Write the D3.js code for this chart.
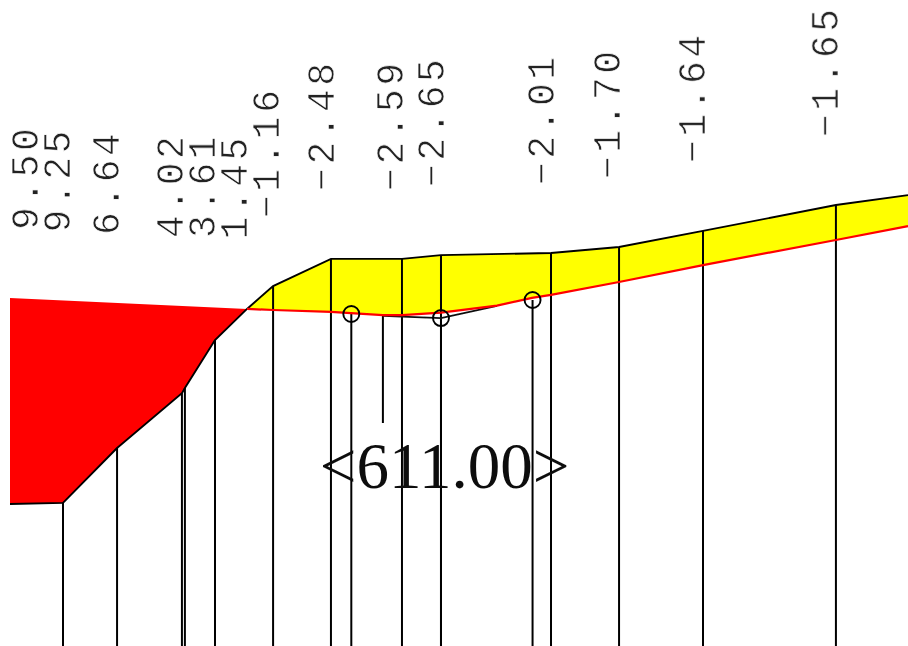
<!DOCTYPE html>
<html>
<head>
<meta charset="utf-8">
<script src="https://cdnjs.cloudflare.com/ajax/libs/d3/7.8.5/d3.min.js"></script>
<style>
  html, body { margin: 0; padding: 0; background: #fff; }
  svg { display: block; }
</style>
</head>
<body>
<div id="chart"></div>
<script>
// ground profile (station m, elevation m)
const groundStations = [0, 2.50, 5.05, 8.11, 8.25, 9.67, 11.18, 12.41, 15.14, 18.49, 20.33, 25.52, 28.73, 32.69, 38.96, 42.36];
const groundLevels = [601.85, 601.90, 604.49, 607.08, 607.32, 609.58, 611.05, 612.13, 613.41, 613.41, 613.59, 613.69, 613.97, 614.73, 615.95, 616.42];

// design line
const designStations = [0, 11.18, 12.41, 15.14, 17.59, 18.49, 20.33, 22.97, 24.62, 25.52, 28.73, 32.69, 38.96, 42.36];
const designLevels = [611.57, 611.05, 611.00, 610.91, 610.76, 610.76, 610.88, 611.21, 611.57, 611.71, 612.32, 613.12, 614.30, 614.96];

// old surface under the design line
const subStations = [17.59, 18.49, 20.33, 22.97];
const subLevels = [610.72, 610.69, 610.62, 611.19];

// survey marks
const markStations = [16.10, 20.33, 24.65];
const markLevels = [610.81, 610.62, 611.47];

// stakes with a depth label
const stakeStations = [0, 2.50, 5.05, 8.11, 8.25, 9.67, 12.41, 15.14, 18.49, 20.33, 25.52, 28.73, 32.69, 38.96];
const depthValues = [9.50, 9.25, 6.64, 4.02, 3.61, 1.45, -1.16, -2.48, -2.59, -2.65, -2.01, -1.70, -1.64, -1.65];
const labelStations = [0.71, 2.26, 4.53, 7.55, 9.10, 10.61, 12.12, 14.67, 17.97, 19.86, 25.05, 28.16, 32.17, 38.44];

const centerLevel = 611.00;
const centerStation = 20.50;

const width = 908;
const height = 646;

const x = d3.scaleLinear().domain([0, 42.36]).range([10, 908]);
const y = d3.scaleLinear().domain([611, 621]).range([310, 98]);

const groundAt = d3.scaleLinear().domain(groundStations).range(groundLevels);
const designAt = d3.scaleLinear().domain(designStations).range(designLevels);

const root = d3.select('#chart')
    .append('svg')
    .attr('width', width)
    .attr('height', height);

// the reference is a slightly soft enlargement
root.append('defs')
    .append('filter')
    .attr('id', 'soft')
    .append('feGaussianBlur')
    .attr('stdDeviation', 0.45);

const svg = root.append('g').attr('filter', 'url(#soft)');

const line = d3.line().x(d => x(d[0])).y(d => y(d[1]));

const ground = d3.zip(groundStations, groundLevels);
const design = d3.zip(designStations, designLevels);
const crossing = 11.18;

// cut and fill areas
svg.append('path')
    .attr('d', line(design.filter(d => d[0] <= crossing).concat(ground.filter(d => d[0] <= crossing).reverse())) + 'Z')
    .attr('fill', '#ff0000');
svg.append('path')
    .attr('d', line(design.filter(d => d[0] >= crossing).concat(ground.filter(d => d[0] >= crossing).reverse())) + 'Z')
    .attr('fill', '#ffff00');

// stakes run down to the bottom of the sheet
svg.selectAll('.stake')
    .data(stakeStations.slice(1))
    .enter()
    .append('line')
    .attr('class', 'stake')
    .attr('x1', d => x(d))
    .attr('x2', d => x(d))
    .attr('y1', d => y(groundAt(d)))
    .attr('y2', height)
    .attr('stroke', '#000')
    .attr('stroke-width', 2);

svg.selectAll('.markStake')
    .data(d3.zip(markStations, markLevels))
    .enter()
    .append('line')
    .attr('class', 'markStake')
    .attr('x1', d => x(d[0]))
    .attr('x2', d => x(d[0]))
    .attr('y1', d => y(d[1]))
    .attr('y2', height)
    .attr('stroke', '#000')
    .attr('stroke-width', 2);

// the short one above the centre label
svg.append('line')
    .attr('x1', x(subStations[0]))
    .attr('x2', x(subStations[0]))
    .attr('y1', y(subLevels[0]))
    .attr('y2', 423)
    .attr('stroke', '#000')
    .attr('stroke-width', 2);

svg.append('path')
    .attr('d', line(d3.zip(subStations, subLevels)))
    .attr('fill', 'none')
    .attr('stroke', '#111')
    .attr('stroke-width', 1.8);

svg.append('path')
    .attr('d', line(ground))
    .attr('fill', 'none')
    .attr('stroke', '#000')
    .attr('stroke-width', 1.9);

svg.append('path')
    .attr('d', line(design.filter(d => d[0] >= crossing)))
    .attr('fill', 'none')
    .attr('stroke', '#ff0000')
    .attr('stroke-width', 2.2);

svg.selectAll('.mark')
    .data(d3.zip(markStations, markLevels))
    .enter()
    .append('circle')
    .attr('class', 'mark')
    .attr('cx', d => x(d[0]))
    .attr('cy', d => y(d[1]))
    .attr('r', 8)
    .attr('fill', 'none')
    .attr('stroke', '#000')
    .attr('stroke-width', 1.9);

// depth labels sit a fixed gap above whichever line is higher
const fmt = d3.format('.2f');
svg.selectAll('.depth')
    .data(depthValues)
    .enter()
    .append('text')
    .attr('class', 'depth')
    .attr('transform', (d, i) => {
        const s = stakeStations[i];
        const top = Math.max(groundAt(s), designAt(s));
        return `translate(${x(labelStations[i])},${y(top) - 68}) rotate(-90)`;
    })
    .attr('dy', '0.33em')
    .attr('font-family', '"Liberation Mono", monospace')
    .attr('font-size', 38)
    .attr('letter-spacing', 3.5)
    .attr('fill', '#222')
    .attr('stroke', '#fff')
    .attr('stroke-width', 0.7)
    .attr('paint-order', 'fill')
    .text(d => fmt(d));

svg.append('text')
    .attr('x', x(centerStation))
    .attr('y', 488)
    .attr('text-anchor', 'middle')
    .attr('font-family', '"Liberation Serif", serif')
    .attr('font-size', 65)
    .attr('fill', '#111')
    .text(`<${fmt(centerLevel)}>`);
</script>
</body>
</html>
